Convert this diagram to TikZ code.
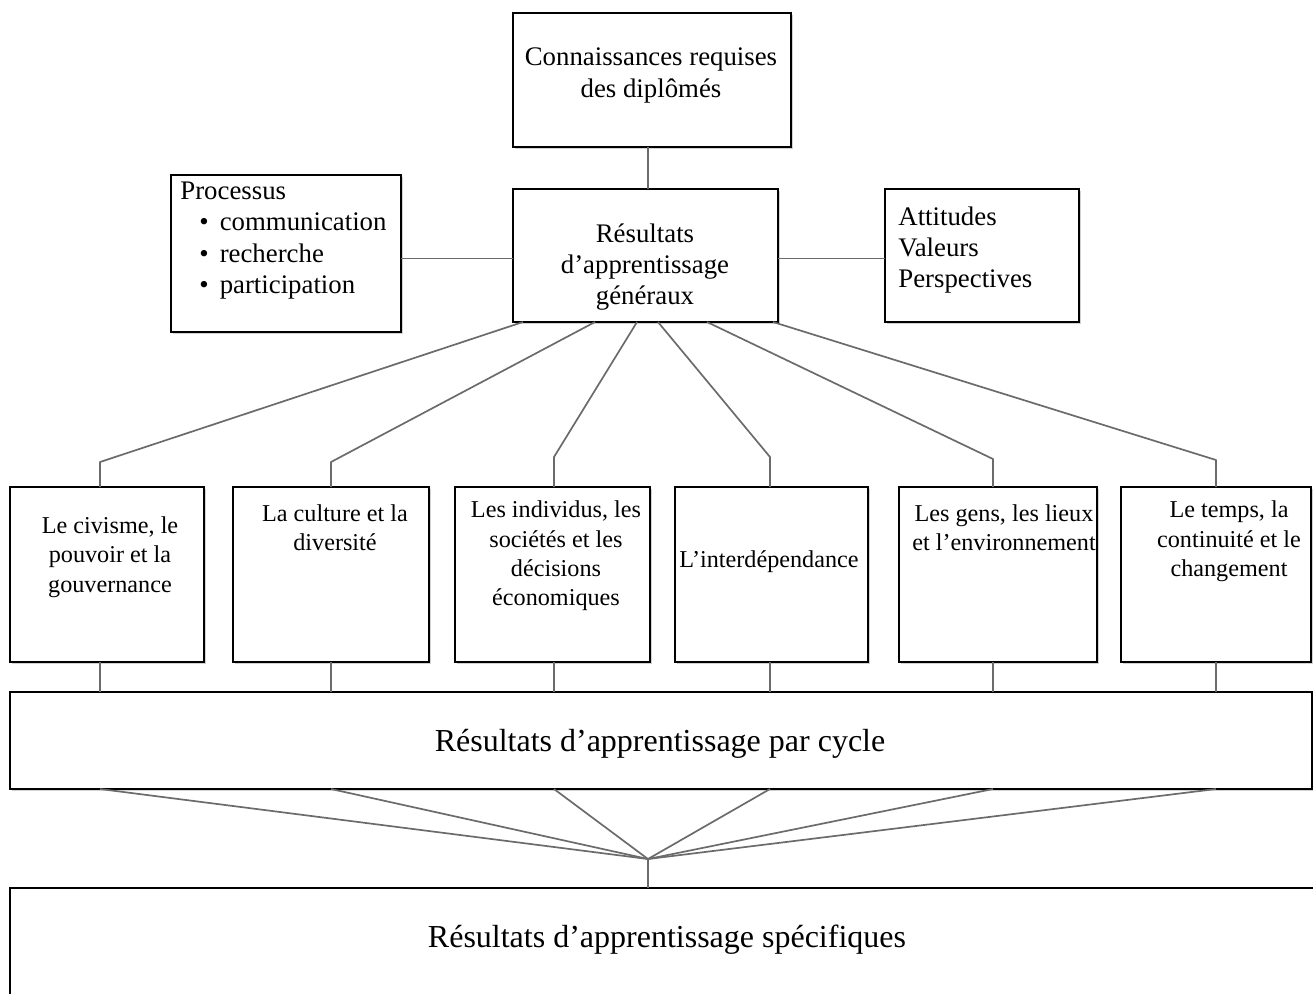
\documentclass[tikz,border=0pt]{standalone}
\usepackage{fontspec}
\setmainfont{Liberation Serif}
\usetikzlibrary{calc,shadows}
\begin{document}
\begin{tikzpicture}[x=0.5pt,y=-0.5pt,
  box/.style={draw=black,line width=1.1pt,fill=white,inner sep=0pt,outer sep=0pt,
    drop shadow={shadow xshift=0.9pt,shadow yshift=-0.9pt,opacity=0.3,fill=black!60}},
  txt/.style={inner sep=0pt,align=center,font=\fontsize{12.1}{14.7}\selectfont},
  txtt/.style={inner sep=0pt,align=center,font=\fontsize{13.4}{15.6}\selectfont},
  txtl/.style={inner sep=0pt,align=left,anchor=west,font=\fontsize{13.4}{15.6}\selectfont},
  big/.style={inner sep=0pt,font=\fontsize{16}{19}\selectfont},
  link/.style={draw=black!58,line width=0.85pt,line join=round}]
\useasboundingbox (0,0) rectangle (1313,993);
\clip (0,0) rectangle (1313,993);
% boxes
\node[box,minimum width=139pt,minimum height=67pt] (conn) at (652,80) {};
\node[box,minimum width=132.5pt,minimum height=66.5pt] (gen) at (645.5,255.5) {};
\node[box,minimum width=115pt,minimum height=78.5pt] (proc) at (286,253.5) {};
\node[box,minimum width=97pt,minimum height=66.5pt] (att) at (982,255.5) {};
\node[box,minimum width=97pt,minimum height=87.5pt] (b1) at (107,574.5) {};
\node[box,minimum width=98pt,minimum height=87.5pt] (b2) at (331,574.5) {};
\node[box,minimum width=97.5pt,minimum height=87.5pt] (b3) at (552.5,574.5) {};
\node[box,minimum width=96.5pt,minimum height=87.5pt] (b4) at (771.5,574.5) {};
\node[box,minimum width=99pt,minimum height=87.5pt] (b5) at (998,574.5) {};
\node[box,minimum width=95pt,minimum height=87.5pt] (b6) at (1216,574.5) {};
\node[box,minimum width=651pt,minimum height=48.5pt] (cyc) at (661,740.5) {};
\node[box,minimum width=660pt,minimum height=61pt] (spec) at (670,949) {};
% texts
\node[txtt] (tconn) at (651,75.5) {Connaissances requises\\des diplômés};
\node[txtt] (tgen) at (645,267) {Résultats\\d’apprentissage\\généraux};
\node[txtl] (tproc) at (180,240.5) {Processus\\\hspace*{9.5pt}\textbullet\hspace{5.5pt}communication\\\hspace*{9.5pt}\textbullet\hspace{5.5pt}recherche\\\hspace*{9.5pt}\textbullet\hspace{5.5pt}participation};
\node[txtl] (tatt) at (898,250) {Attitudes\\Valeurs\\Perspectives};
\node[txt] (t1) at (110,557) {Le civisme, le\\pouvoir et la\\gouvernance};
\node[txt] (t2) at (335,527.5) {La culture et la\\diversité};
\node[txt] (t3) at (556,556) {Les individus, les\\sociétés et les\\décisions\\économiques};
\node[txt] (t4) at (769,562) {L’interdépendance};
\node[txt] (t5) at (1004,527.5) {Les gens, les lieux\\et l’environnement};
\node[txt] (t6) at (1229,541.5) {Le temps, la\\continuité et le\\changement};
\node[big] (tcyc) at (660,744) {Résultats d’apprentissage par cycle};
\node[big] (tspec) at (667,939.5) {Résultats d’apprentissage spécifiques};
% connector x positions
\coordinate (x1) at ($(b1.north)+(-7,0)$);
\coordinate (x2) at ($(b2.north)+(0,0)$);
\coordinate (x3) at ($(b3.north)+(1.5,0)$);
\coordinate (x4) at ($(b4.north)+(-1.5,0)$);
\coordinate (x5) at ($(b5.north)+(-5,0)$);
\coordinate (x6) at ($(b6.north)+(0,0)$);
\coordinate (hub) at (648,859);
% top connectors
\draw[link] ([xshift=-2pt]conn.south) -- ([xshift=-2pt]conn.south |- gen.north);
\draw[link] ([yshift=-1.5pt]gen.west) -- ([yshift=-1.5pt]gen.west -| proc.east);
\draw[link] ([yshift=-1.5pt]gen.east) -- ([yshift=-1.5pt]gen.east -| att.west);
% fan to the six boxes
\draw[link] ($(gen.south west)+(10,0)$) -- ($(x1)+(0,-25)$) -- (x1);
\draw[link] ($(gen.south west)+(82,0)$) -- ($(x2)+(0,-25)$) -- (x2);
\draw[link] ($(gen.south west)+(124,0)$) -- ($(x3)+(0,-30)$) -- (x3);
\draw[link] ($(gen.south west)+(145,0)$) -- ($(x4)+(0,-30)$) -- (x4);
\draw[link] ($(gen.south west)+(194,0)$) -- ($(x5)+(0,-28)$) -- (x5);
\draw[link] ($(gen.south west)+(260,0)$) -- ($(x6)+(0,-27)$) -- (x6);
% six boxes to cycle box
\foreach \i/\b in {1/b1,2/b2,3/b3,4/b4,5/b5,6/b6}{
  \draw[link] (x\i |- \b.south) -- (x\i |- cyc.north);
  \draw[link] (x\i |- cyc.south) -- (hub);
}
\draw[link] (hub) -- (hub |- spec.north);
\end{tikzpicture}
\end{document}
